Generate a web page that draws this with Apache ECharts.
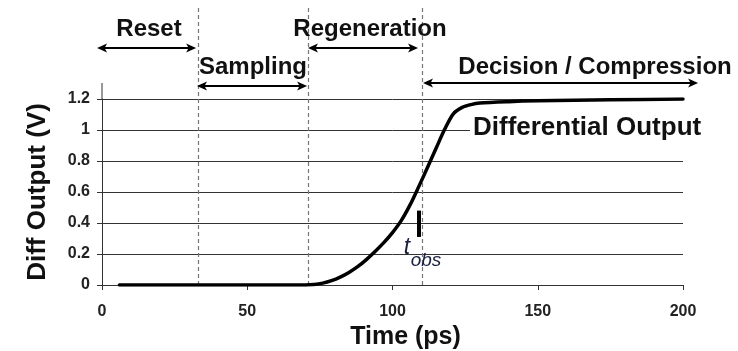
<!DOCTYPE html>
<html><head><meta charset="utf-8">
<script src="https://cdn.jsdelivr.net/npm/echarts@6/dist/echarts.min.js"></script>
<style>html,body{margin:0;padding:0;background:#fff}#c{width:738px;height:351px}</style>
</head><body><div id="c"></div>
<script>
// ---- data ----
const timePs = [6, 22, 38, 54, 70, 73, 76, 79, 82, 85, 88, 91, 94, 97, 100, 103, 106, 109, 112, 115, 118, 121, 124, 127, 130, 140, 150, 175, 200];
const diffOutput = [0, 0, 0, 0, 0, 0.003, 0.012, 0.028, 0.051, 0.081, 0.118, 0.164, 0.216, 0.273, 0.338, 0.415, 0.515, 0.633, 0.756, 0.882, 1.006, 1.106, 1.146, 1.164, 1.174, 1.183, 1.188, 1.195, 1.2];
const xTicks = [0, 50, 100, 150, 200];
const yTicks = [0, 0.2, 0.4, 0.6, 0.8, 1, 1.2];
const phaseBoundaries = [33, 71, 110];
const phaseNames = ['Reset', 'Sampling', 'Regeneration', 'Decision / Compression'];
const phaseStart = [-1.7, 32.7, 70.9, 110.5];
const phaseEnd = [32.4, 70.6, 108.8, 205.2];
const tObs = 109;
const tObsSpan = [0.31, 0.48];
const curveLabel = 'Differential Output';

// ---- chart ----
const FONT = '"Liberation Sans", Arial, sans-serif';
const chart = echarts.init(document.getElementById('c'), null, {renderer: 'canvas'});
chart.setOption({
  animation: false,
  backgroundColor: '#fff',
  grid: {left: 102, right: 55, top: 99, bottom: 66, containLabel: false, outerBoundsMode: 'none'},
  xAxis: {
    type: 'value', min: xTicks[0], max: xTicks[xTicks.length - 1], interval: xTicks[1] - xTicks[0],
    name: 'Time (ps)', nameLocation: 'middle', nameGap: 36,
    nameTextStyle: {fontFamily: FONT, fontWeight: 'bold', fontSize: 25, color: '#111', padding: [0, 0, 0, 26]},
    axisLine: {show: true, lineStyle: {color: '#333', width: 1}},
    axisTick: {show: true, inside: false, length: 5, lineStyle: {color: '#333'}},
    axisLabel: {fontFamily: FONT, fontWeight: 'bold', fontSize: 16, color: '#222', margin: 19},
    splitLine: {show: false}
  },
  yAxis: {
    type: 'value', min: yTicks[0], max: yTicks[yTicks.length - 1], interval: yTicks[1] - yTicks[0],
    name: 'Diff Output (V)', nameLocation: 'middle', nameGap: 51, nameRotate: 90,
    nameTextStyle: {fontFamily: FONT, fontWeight: 'bold', fontSize: 26, color: '#111'},
    axisLine: {show: true, lineStyle: {color: '#333', width: 1}},
    axisTick: {show: true, inside: false, length: 5, lineStyle: {color: '#333'}},
    axisLabel: {fontFamily: FONT, fontWeight: 'bold', fontSize: 16, color: '#222', margin: 12},
    splitLine: {show: true, lineStyle: {color: '#333', width: 1}}
  },
  series: [{
    type: 'line', z: 5,
    data: timePs.map((t, i) => [t, diffOutput[i]]),
    showSymbol: false, smooth: 0.3,
    lineStyle: {color: '#000', width: 3.5, join: 'round', cap: 'round'},
    markLine: {
      silent: true, symbol: ['none', 'none'], label: {show: false},
      lineStyle: {color: '#000', width: 4, type: 'solid'},
      data: [[{coord: [tObs, tObsSpan[0]]}, {coord: [tObs, tObsSpan[1]]}]]
    }
  }]
});

function px(x, y) { return chart.convertToPixel({gridIndex: 0}, [x, y]); }
const g = [];
const yTop = px(0, 0)[1] - 277; // dashed line top (px above baseline)
// y-axis extension above 1.2
const ya = px(0, yTicks[yTicks.length - 1]);
g.push({type: 'line', z: 3, shape: {x1: ya[0], y1: ya[1], x2: ya[0], y2: ya[1] - 16}, style: {stroke: '#333', lineWidth: 1}});
// dashed phase boundaries
phaseBoundaries.forEach(b => {
  const p0 = px(b, 0);
  g.push({type: 'line', z: 4, shape: {x1: Math.round(p0[0]) + 0.5, y1: p0[1], x2: Math.round(p0[0]) + 0.5, y2: yTop},
    style: {stroke: '#777', lineWidth: 1.2, lineDash: [4, 3]}});
});
// arrows and phase names
const arrowY = [48, 86, 48, 83];
const labelY = [29, 67, 29, 67];
const labelCx = [149, 253, 370, 595];
function arrow(xa, xb, y) {
  const h = 10, w = 4.5;
  const items = [];
  items.push({type: 'line', z: 6, shape: {x1: xa + 4, y1: y, x2: xb - 4, y2: y}, style: {stroke: '#000', lineWidth: 2}});
  items.push({type: 'polygon', z: 6, shape: {points: [[xa, y], [xa + h, y - w], [xa + h - 2.5, y], [xa + h, y + w]]}, style: {fill: '#000'}});
  items.push({type: 'polygon', z: 6, shape: {points: [[xb, y], [xb - h, y - w], [xb - h + 2.5, y], [xb - h, y + w]]}, style: {fill: '#000'}});
  return items;
}
phaseNames.forEach((name, i) => {
  const a = px(phaseStart[i], 0)[0], b = px(phaseEnd[i], 0)[0];
  g.push(...arrow(a, b, arrowY[i]));
  g.push({type: 'text', z: 7, style: {text: name, x: labelCx[i], y: labelY[i], align: 'center', verticalAlign: 'middle',
    font: 'bold 24px ' + FONT, fill: '#111'}});
});
// curve label
const cl = px(127.7, 1.0);
g.push({type: 'text', z: 7, style: {text: curveLabel, x: cl[0] - 3, y: cl[1] - 2, align: 'left', verticalAlign: 'middle',
  font: 'bold 26px ' + FONT, fill: '#111', backgroundColor: '#fff', padding: [0, 3, 0, 3]}});
// t_obs label
const tp = px(tObs, 0);
g.push({type: 'text', z: 7, style: {text: 't', x: tp[0] - 15, y: 248, align: 'left', verticalAlign: 'middle',
  font: 'italic 23px ' + FONT, fill: '#1a2040'}});
g.push({type: 'text', z: 7, style: {text: 'obs', x: tp[0] - 8, y: 261, align: 'left', verticalAlign: 'middle',
  font: 'italic 19px ' + FONT, fill: '#1a2040'}});
chart.setOption({graphic: {elements: g}});
</script>
</body></html>
